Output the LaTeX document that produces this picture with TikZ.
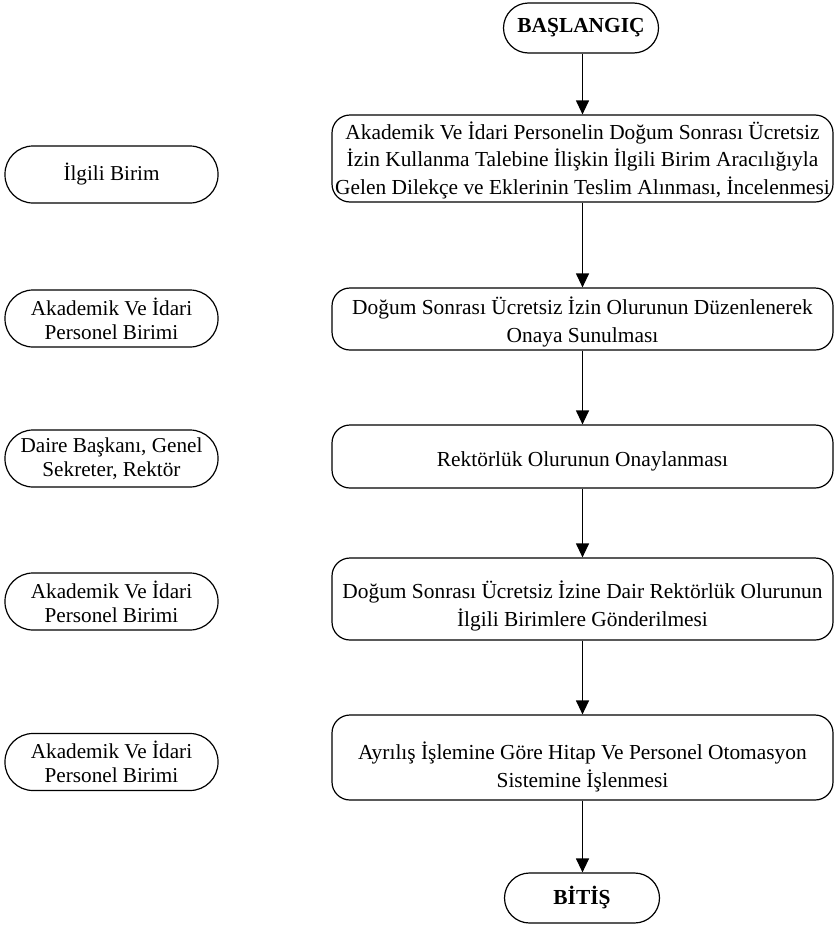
\documentclass[tikz,border=0pt]{standalone}
\usepackage{fontspec}
\setmainfont{Liberation Serif}
\usetikzlibrary{arrows.meta}
\begin{document}
\begin{tikzpicture}[x=1pt,y=-1pt,
  mainbox/.style={draw,line width=1.2pt,rounded corners=18pt,minimum width=501pt,minimum height=#1,inner sep=0pt},
  maintext/.style={align=center,inner sep=0pt,font=\fontsize{21.4}{27.5}\selectfont},
  sidebox/.style={draw,line width=1.2pt,rounded corners=28pt,minimum width=213pt,minimum height=57pt,align=center,inner sep=0pt,font=\fontsize{21.2}{24}\selectfont},
  termbox/.style={draw,line width=1.2pt,rounded corners=25pt,minimum width=155pt,minimum height=50pt,align=center,inner sep=0pt,font=\fontsize{21.4}{24}\selectfont\bfseries},
  arr/.style={line width=1.2pt,-{Triangle[length=14pt,width=13pt]}}]
\useasboundingbox (0,0) rectangle (834,937);
\node[termbox] (start) at (581,28) {BAŞLANGIÇ};
\node[mainbox=87pt] (b1) at (582.5,158.5) {};
\node[maintext] (b1t) at (582.5,160) {Akademik Ve İdari Personelin Doğum Sonrası Ücretsiz\\İzin Kullanma Talebine İlişkin İlgili Birim Aracılığıyla\\Gelen Dilekçe ve Eklerinin Teslim Alınması, İncelenmesi};
\node[mainbox=62pt] (b2) at (582.5,319) {};
\node[maintext] (b2t) at (582.5,322) {Doğum Sonrası Ücretsiz İzin Olurunun Düzenlenerek\\Onaya Sunulması};
\node[mainbox=63pt] (b3) at (582.5,456.5) {};
\node[maintext] (b3t) at (582.5,461) {Rektörlük Olurunun Onaylanması};
\node[mainbox=82pt] (b4) at (582.5,599) {};
\node[maintext] (b4t) at (582.5,606) {Doğum Sonrası Ücretsiz İzine Dair Rektörlük Olurunun\\İlgili Birimlere Gönderilmesi};
\node[mainbox=85pt] (b5) at (582.5,757.5) {};
\node[maintext] (b5t) at (582.5,767) {Ayrılış İşlemine Göre Hitap Ve Personel Otomasyon\\Sistemine İşlenmesi};
\node[termbox] (end) at (582,898) {BİTİŞ};
\node[sidebox] (s1) at (111.5,174.5) {İlgili Birim};
\node[sidebox] (s2) at (111.5,318.5) {Akademik Ve İdari\\Personel Birimi};
\node[sidebox] (s3) at (111.5,458.5) {Daire Başkanı, Genel\\Sekreter, Rektör};
\node[sidebox] (s4) at (111.5,601.5) {Akademik Ve İdari\\Personel Birimi};
\node[sidebox] (s5) at (111.5,762) {Akademik Ve İdari\\Personel Birimi};
\draw[arr] (start.south -| b1.north) -- (b1.north);
\draw[arr] (b1) -- (b2);
\draw[arr] (b2) -- (b3);
\draw[arr] (b3) -- (b4);
\draw[arr] (b4) -- (b5);
\draw[arr] (b5.south) -- (b5.south |- end.north);
\end{tikzpicture}
\end{document}
